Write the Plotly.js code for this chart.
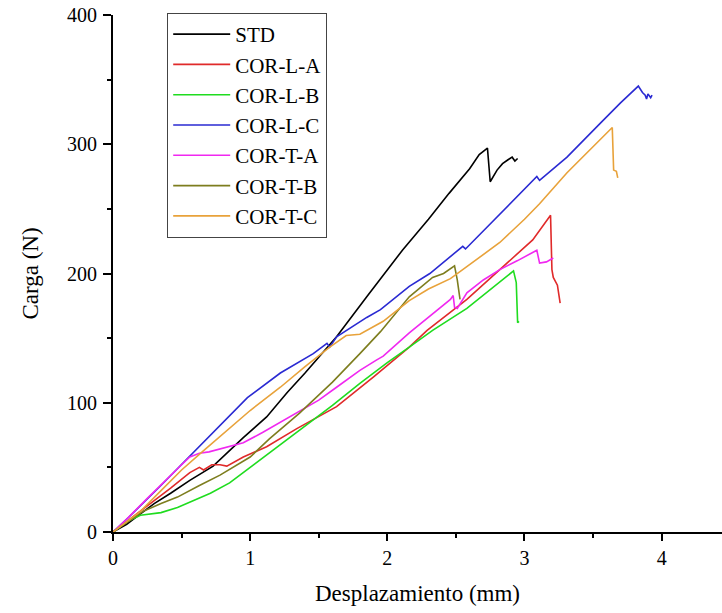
<!DOCTYPE html>
<html>
<head>
<meta charset="utf-8">
<script src="https://cdn.plot.ly/plotly-3.0.1.min.js"></script>
<style>html,body{margin:0;padding:0;background:#fff;}#chart{width:722px;height:613px;}</style>
</head>
<body>
<div id="chart"></div>
<script>
// Series names
const seriesNames = ["STD", "COR-L-A", "COR-L-B", "COR-L-C", "COR-T-A", "COR-T-B", "COR-T-C"];

// Desplazamiento (mm) and Carga (N) for each series
const stdX = [0,0.1,0.2,0.3,0.42,0.56,0.73,0.78,0.95,1.12,1.27,1.4,1.58,1.63,1.85,1.95,2.11,2.3,2.45,2.6,2.67,2.73,2.74,2.75,2.80,2.84,2.88,2.91,2.93,2.95];
const stdY = [0,6,14,22,30,40,51,56,73,89,108,123,145,151,182,196,218,242,262,281,292,297,285,271,280,285,288,290,287,289];

const corLAX = [0,0.1,0.25,0.42,0.56,0.63,0.66,0.72,0.78,0.83,0.95,1.12,1.34,1.63,1.9,2.16,2.29,2.58,2.82,3.06,3.19,3.2,3.21,3.24,3.26];
const corLAY = [0,8,20,34,46,50,48,52,52,51,58,66,80,97,120,143,156,180,203,226,245,203,197,191,177];

const corLBX = [0,0.1,0.2,0.27,0.35,0.47,0.6,0.71,0.85,1.0,1.12,1.36,1.6,1.8,2.0,2.16,2.33,2.58,2.82,2.92,2.94,2.945,2.95,2.96];
const corLBY = [0,8,13,14,15,19,25,30,38,50,60,79,98,115,131,143,156,173,193,202,193,170,162,163];

const corLCX = [0,0.12,0.34,0.49,0.63,0.78,0.98,1.22,1.46,1.56,1.58,1.63,1.85,1.95,2.16,2.31,2.55,2.57,2.8,3.09,3.11,3.31,3.55,3.7,3.83,3.86,3.88,3.89,3.9,3.92,3.93];
const corLCY = [0,12,35,51,66,82,104,123,138,146,143,151,166,172,190,200,221,219,244,275,272,290,316,332,345,340,338,335,339,336,338];

const corTAX = [0,0.1,0.25,0.4,0.5,0.56,0.63,0.7,0.85,0.95,1.09,1.27,1.34,1.5,1.63,1.8,1.92,1.97,2.16,2.3,2.46,2.48,2.49,2.51,2.58,2.7,2.82,2.95,3.06,3.09,3.11,3.16,3.21];
const corTAY = [0,10,26,42,52,58,61,62,66,69,77,88,92,102,112,125,133,136,154,166,180,183,174,173,185,195,203,210,216,218,208,209,212];

const corTBX = [0,0.1,0.22,0.35,0.47,0.63,0.78,1.0,1.14,1.36,1.6,1.8,1.95,2.16,2.33,2.41,2.49,2.51,2.52,2.53];
const corTBY = [0,7,16,22,27,36,44,58,72,92,116,138,155,182,197,200,206,195,188,180];

const corTCX = [0,0.2,0.35,0.5,0.65,0.8,1.0,1.22,1.4,1.58,1.7,1.8,1.97,2.16,2.3,2.46,2.6,2.82,3.0,3.11,3.31,3.5,3.64,3.65,3.67,3.68];
const corTCY = [0,16,32,48,62,76,94,112,128,143,152,153,163,179,188,196,207,224,242,254,278,298,313,280,279,274];

const xTickVals = [0,1,2,3,4];
const yTickVals = [0,100,200,300,400];

const colors = ["#000000","#e02a2a","#1fdc1f","#2a2ad2","#f028f0","#7d7d1e","#e8a23a"];
const xs = [stdX, corLAX, corLBX, corLCX, corTAX, corTBX, corTCX];
const ys = [stdY, corLAY, corLBY, corLCY, corTAY, corTBY, corTCY];

const traces = seriesNames.map((n, i) => ({
  x: xs[i], y: ys[i], name: n, type: "scatter", mode: "lines",
  line: {color: colors[i], width: 1.6}
}));

const font = {family: "Liberation Serif, Times New Roman, serif", color: "#000"};

const layout = {
  width: 722, height: 613,
  margin: {l: 113, r: 0, t: 15, b: 81},
  paper_bgcolor: "#fff", plot_bgcolor: "#fff",
  font: Object.assign({size: 20}, font),
  showlegend: true,
  legend: {
    x: 0.089, y: 1.004, xanchor: "left", yanchor: "top",
    bordercolor: "#444", borderwidth: 1, bgcolor: "rgba(255,255,255,0)",
    font: Object.assign({size: 21}, font),
    itemwidth: 57, tracegroupgap: 0
  },
  xaxis: {
    range: [0, 4.44], showgrid: false, zeroline: false,
    showline: true, linecolor: "#000", linewidth: 2,
    ticks: "outside", ticklen: 7, tickwidth: 2, tickcolor: "#000",
    tickvals: xTickVals, ticktext: xTickVals.map(String),
    ticklabelstandoff: 0,
    minor: {dtick: 0.5, tick0: 0, ticks: "outside", ticklen: 4, tickwidth: 2, tickcolor: "#000"},
    tickfont: Object.assign({size: 20}, font),
    title: {text: "Desplazamiento (mm)", font: Object.assign({size: 23}, font), standoff: 17}
  },
  yaxis: {
    range: [0, 400], showgrid: false, zeroline: false,
    showline: true, linecolor: "#000", linewidth: 2,
    ticks: "outside", ticklen: 8, tickwidth: 2, tickcolor: "#000",
    tickvals: yTickVals, ticktext: yTickVals.map(String),
    ticklabelstandoff: 2,
    minor: {dtick: 50, tick0: 0, ticks: "outside", ticklen: 4, tickwidth: 2, tickcolor: "#000"},
    tickfont: Object.assign({size: 20}, font),
    title: {text: "Carga (N)", font: Object.assign({size: 23}, font), standoff: 22}
  }
};

Plotly.newPlot("chart", traces, layout, {displayModeBar: false, staticPlot: true});
</script>
</body>
</html>
